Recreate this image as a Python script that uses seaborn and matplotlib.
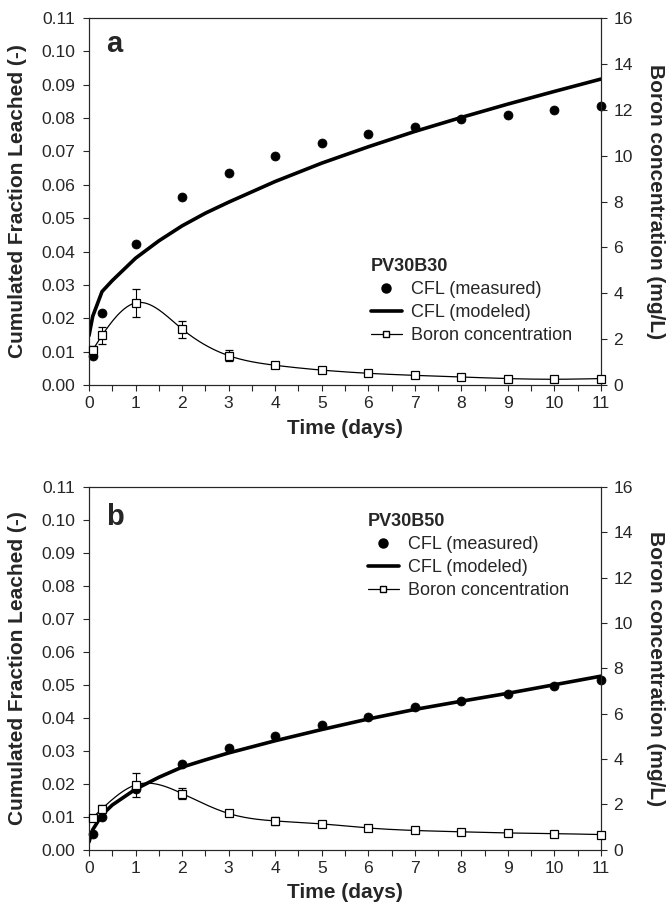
import numpy as np
import seaborn as sbn
import matplotlib.pyplot as plt
from matplotlib.lines import Line2D
from matplotlib.ticker import MultipleLocator, FormatStrFormatter

# tiempos (dias)
dias_med = [0.08, 0.28, 1, 2, 3, 4, 5, 6, 7, 8, 9, 10, 11]
dias_mod = [0, 0.08, 0.28, 0.5, 1, 1.5, 2, 2.5, 3, 4, 5, 6, 7, 8, 9, 10, 11]

# panel a - PV30B30
cfl_med_a = [0.0088, 0.0215, 0.0422, 0.0563, 0.0635, 0.0687, 0.0724, 0.0752,
             0.0773, 0.0796, 0.0810, 0.0823, 0.0836]
cfl_mod_a = [0.0148, 0.0206, 0.0280, 0.0313, 0.0380, 0.0432, 0.0477, 0.0515,
             0.0548, 0.0610, 0.0665, 0.0714, 0.0760, 0.0802, 0.0842, 0.0880, 0.0917]
boro_a = [1.53, 2.16, 3.58, 2.44, 1.28, 0.86, 0.65, 0.51, 0.42, 0.35, 0.28, 0.25, 0.28]
boro_err_a = [0.15, 0.38, 0.62, 0.37, 0.23, 0.12, 0.10, 0.08, 0.08, 0.06, 0.08, 0.08, 0.08]

# panel b - PV30B50
cfl_med_b = [0.0046, 0.0099, 0.0183, 0.0260, 0.0308, 0.0345, 0.0377, 0.0403,
             0.0431, 0.0452, 0.0473, 0.0496, 0.0514]
cfl_mod_b = [0.0023, 0.0060, 0.0105, 0.0135, 0.0183, 0.0219, 0.0250, 0.0272,
             0.0293, 0.0330, 0.0364, 0.0396, 0.0425, 0.0450, 0.0474, 0.0500, 0.0526]
boro_b = [1.41, 1.80, 2.85, 2.47, 1.59, 1.26, 1.13, 0.95, 0.84, 0.78, 0.73, 0.70, 0.66]
boro_err_b = [0.10, 0.15, 0.52, 0.25, 0.08, 0.17, 0.05, 0.05, 0.05, 0.05, 0.05, 0.05, 0.05]

etiquetas = ["CFL (measured)", "CFL (modeled)", "Boron concentration"]


def spline(x, y, n=400):
    """spline cubico natural para la linea suave de boro"""
    x = np.asarray(x, float)
    y = np.asarray(y, float)
    k = len(x)
    h = np.diff(x)
    A = np.zeros((k, k))
    r = np.zeros(k)
    A[0, 0] = A[-1, -1] = 1
    for i in range(1, k - 1):
        A[i, i - 1] = h[i - 1]
        A[i, i] = 2 * (h[i - 1] + h[i])
        A[i, i + 1] = h[i]
        r[i] = 3 * ((y[i + 1] - y[i]) / h[i] - (y[i] - y[i - 1]) / h[i - 1])
    c = np.linalg.solve(A, r)
    b = (y[1:] - y[:-1]) / h - h * (2 * c[:-1] + c[1:]) / 3
    d = (c[1:] - c[:-1]) / (3 * h)
    xs = np.linspace(x[0], x[-1], n)
    idx = np.clip(np.searchsorted(x, xs) - 1, 0, k - 2)
    dx = xs - x[idx]
    ys = y[idx] + b[idx] * dx + c[idx] * dx ** 2 + d[idx] * dx ** 3
    return xs, ys


sbn.set_style("ticks")
plt.rcParams['font.family'] = ['Liberation Sans', 'DejaVu Sans']

fig = plt.figure(figsize=(6.66, 9.10), dpi=100)
W, H = 666, 910


def panel(caja, letra, nombre, cfl_med, cfl_mod, boro, boro_err, leg_xy, letra_y):
    x0, x1, y0, y1 = caja
    ax = fig.add_axes([x0 / W, 1 - y1 / H, (x1 - x0) / W, (y1 - y0) / H])

    sbn.lineplot(x=dias_mod, y=cfl_mod, ax=ax, color="black", lw=2.6, zorder=3)
    sbn.scatterplot(x=dias_med, y=cfl_med, ax=ax, color="black", s=42,
                    edgecolor="black", zorder=4, clip_on=False)

    ax2 = ax.twinx()
    xs, ys = spline(dias_med, boro)
    sbn.lineplot(x=xs, y=ys, ax=ax2, color="black", lw=0.9)
    ax2.errorbar(dias_med, boro, yerr=boro_err, fmt="s", mfc="white", mec="black",
                 ms=6, mew=0.9, ecolor="black", elinewidth=0.8, capsize=3,
                 capthick=0.8, lw=0, clip_on=False, zorder=5)

    ax.set_xlim(0, 11)
    ax.set_ylim(0, 0.11)
    ax2.set_ylim(0, 16)
    ax.xaxis.set_major_locator(MultipleLocator(1))
    ax.xaxis.set_minor_locator(MultipleLocator(0.5))
    ax.yaxis.set_major_locator(MultipleLocator(0.01))
    ax.yaxis.set_major_formatter(FormatStrFormatter("%.2f"))
    ax2.yaxis.set_major_locator(MultipleLocator(2))

    ax.tick_params(axis="both", which="both", direction="out", length=4,
                   width=0.8, labelsize=12.6)
    ax.tick_params(axis="y", pad=6)
    ax.tick_params(axis="x", pad=4)
    ax2.tick_params(axis="y", direction="out", length=4, width=0.8,
                    labelsize=12.6, pad=5)
    for a in (ax, ax2):
        for s in a.spines.values():
            s.set_linewidth(0.8)
            s.set_visible(True)

    ax.set_xlabel("Time (days)", fontsize=15, fontweight="bold")
    ax.set_ylabel("Cumulated Fraction Leached (-)", fontsize=15, fontweight="bold")
    ax2.set_ylabel("Boron concentration (mg/L)", fontsize=15, fontweight="bold",
                   rotation=270)
    ancho = x1 - x0
    alto = y1 - y0
    ax.xaxis.set_label_coords(0.5, -43 / alto)
    ax.xaxis.label.set_va("center")
    ax.yaxis.set_label_coords((17 - x0) / ancho, 0.5)
    ax.yaxis.label.set_va("center")
    ax2.yaxis.set_label_coords((655 - x0) / ancho, 0.5)
    ax2.yaxis.label.set_va("center")

    ax.text((106 - x0) / ancho, 1 - (letra_y - y0) / alto, letra, transform=ax.transAxes,
            fontsize=21, fontweight="bold", ha="left", va="baseline")

    # leyenda
    h1 = Line2D([], [], marker="o", ls="none", color="black", ms=6.5)
    h2 = Line2D([], [], color="black", lw=2.6)
    h3 = Line2D([], [], color="black", lw=0.9, marker="s", mfc="white",
                mec="black", ms=5)
    ax2.legend([h1, h2, h3], etiquetas, title=nombre, loc="upper left",
               bbox_to_anchor=(leg_xy[0] / W, 1 - leg_xy[1] / H),
               bbox_transform=fig.transFigure, frameon=False, fontsize=13,
               title_fontproperties={"weight": "bold", "size": 13},
               alignment="left", handlelength=1.7, handletextpad=0.5,
               labelspacing=0.33, borderpad=0, borderaxespad=0)
    return ax, ax2


panel((89, 601, 18, 385), "a", "PV30B30", cfl_med_a, cfl_mod_a, boro_a, boro_err_a,
      (371, 258), 52)
panel((89, 601, 487, 849.5), "b", "PV30B50", cfl_med_b, cfl_mod_b, boro_b, boro_err_b,
      (368, 513), 525)

fig.savefig("out.png", dpi=100)
